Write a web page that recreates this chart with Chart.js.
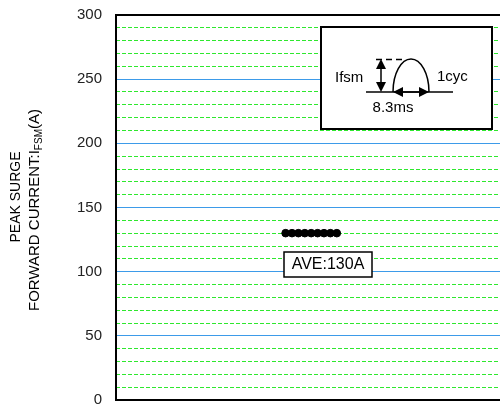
<!DOCTYPE html>
<html>
<head>
<meta charset="utf-8">
<script src="https://cdn.jsdelivr.net/npm/chart.js@4/dist/chart.umd.min.js"></script>
<style>
html,body{margin:0;padding:0;background:#fff;}
#wrap{position:relative;width:500px;height:408px;}
</style>
</head>
<body>
<div id="wrap"><canvas id="c" width="500" height="408"></canvas></div>
<script>
// Data
const sampleX = [27, 28, 29, 30, 31, 32, 33, 34, 35];
const peakSurge = [130, 130, 130, 130, 130, 130, 130, 130, 130];
const yTickLabels = [0, 50, 100, 150, 200, 250, 300];
const averageLabel = "AVE:130A";
const titleLine1 = "PEAK SURGE";
const titleLine2Main = "FORWARD CURRENT:I";
const titleLine2Sub = "FSM";
const titleLine2End = "(A)";

const FONT = "'Liberation Sans', Arial, sans-serif";

const points = sampleX.map((x, i) => ({x: x, y: peakSurge[i]}));

function noPad(s) { s.paddingTop = 0; s.paddingBottom = 0; s.paddingLeft = 0; s.paddingRight = 0; }

const decor = {
  id: 'decor',
  afterDatasetsDraw(chart) {
    const ctx = chart.ctx;
    const ca = chart.chartArea;
    const L = ca.left, T = ca.top;
    ctx.save();
    // AVE box
    ctx.fillStyle = '#fff';
    ctx.strokeStyle = '#000';
    ctx.lineWidth = 1.5;
    ctx.fillRect(L + 168, T + 237, 88, 25);
    ctx.strokeRect(L + 168, T + 237, 88, 25);
    ctx.fillStyle = '#000';
    ctx.font = '16px ' + FONT;
    ctx.textAlign = 'center';
    ctx.textBaseline = 'middle';
    ctx.fillText(averageLabel, L + 212, T + 250);

    // inset box
    const bx = L + 205, by = T + 12, bw = 171, bh = 102;
    ctx.fillStyle = '#fff';
    ctx.fillRect(bx, by, bw, bh);
    ctx.lineWidth = 2;
    ctx.strokeRect(bx, by, bw, bh);
    ctx.fillStyle = '#000';
    ctx.font = '15px ' + FONT;
    ctx.textAlign = 'left';
    const ox = L, oy = T;
    ctx.fillText('Ifsm', ox + 219, oy + 63);
    ctx.fillText('1cyc', ox + 321, oy + 62);
    ctx.textAlign = 'center';
    ctx.fillText('8.3ms', ox + 277, oy + 93);

    // wave
    ctx.lineWidth = 1.5;
    ctx.beginPath();
    ctx.moveTo(ox + 250, oy + 77); ctx.lineTo(ox + 337, oy + 77);
    ctx.stroke();
    ctx.beginPath();
    ctx.ellipse(ox + 295, oy + 77, 18, 33, 0, Math.PI, 2 * Math.PI);
    ctx.stroke();
    ctx.setLineDash([6, 4]);
    ctx.beginPath();
    ctx.moveTo(ox + 260, oy + 44.5); ctx.lineTo(ox + 286, oy + 44.5);
    ctx.stroke();
    ctx.setLineDash([]);
    ctx.beginPath();
    ctx.moveTo(ox + 265, oy + 50); ctx.lineTo(ox + 265, oy + 72);
    ctx.stroke();
    function tri(x1, y1, x2, y2, x3, y3) {
      ctx.beginPath(); ctx.moveTo(ox + x1, oy + y1); ctx.lineTo(ox + x2, oy + y2); ctx.lineTo(ox + x3, oy + y3); ctx.closePath(); ctx.fill();
    }
    tri(265, 44, 260, 54, 270, 54);
    tri(265, 77, 260, 67, 270, 67);
    ctx.beginPath();
    ctx.moveTo(ox + 282, oy + 77); ctx.lineTo(ox + 308, oy + 77);
    ctx.stroke();
    tri(277, 77, 287, 72, 287, 82);
    tri(313, 77, 303, 72, 303, 82);

    // y title
    ctx.fillStyle = '#000';
    ctx.save();
    ctx.translate(20, 197);
    ctx.rotate(-Math.PI / 2);
    ctx.font = '14px ' + FONT;
    ctx.textAlign = 'center';
    ctx.textBaseline = 'alphabetic';
    ctx.fillText(titleLine1, 0, 0);
    ctx.restore();

    ctx.save();
    ctx.translate(38.5, 210);
    ctx.rotate(-Math.PI / 2);
    ctx.textBaseline = 'alphabetic';
    ctx.textAlign = 'left';
    const mainFont = '15px ' + FONT, subFont = '10px ' + FONT;
    ctx.font = mainFont; const w1 = ctx.measureText(titleLine2Main).width;
    const w3 = ctx.measureText(titleLine2End).width;
    ctx.font = subFont; const w2 = ctx.measureText(titleLine2Sub).width;
    let x = -(w1 + w2 + w3) / 2;
    ctx.font = mainFont; ctx.fillText(titleLine2Main, x, 0); x += w1;
    ctx.font = subFont; ctx.fillText(titleLine2Sub, x, 3); x += w2;
    ctx.font = mainFont; ctx.fillText(titleLine2End, x, 0);
    ctx.restore();

    ctx.restore();
  }
};

new Chart(document.getElementById('c'), {
  type: 'scatter',
  data: {
    datasets: [{
      data: points,
      xAxisID: 'x',
      yAxisID: 'y',
      backgroundColor: '#000',
      borderColor: '#000',
      pointRadius: 3.8,
      pointHoverRadius: 3.8,
      showLine: false
    }]
  },
  options: {
    responsive: false,
    animation: false,
    events: [],
    layout: {autoPadding: false, padding: {top: 15, bottom: 8, left: 0, right: 0}},
    plugins: {legend: {display: false}, tooltip: {enabled: false}},
    scales: {
      yMinor: {
        type: 'linear', position: 'left', min: 0, max: 300, weight: 0,
        ticks: {display: false, stepSize: 10},
        afterBuildTicks(s) { s.ticks = s.ticks.filter(t => t.value % 50 !== 0); },
        grid: {drawTicks: false, lineWidth: 1, color: '#2ee82e'},
        border: {display: false, dash: [4, 2]},
        afterFit(s) { s.width = 0; noPad(s); }
      },
      yMajor: {
        type: 'linear', position: 'left', min: 0, max: 300, weight: 0,
        ticks: {display: false, stepSize: 50},
        afterBuildTicks(s) { s.ticks = s.ticks.filter(t => t.value > 0 && t.value < 300); },
        grid: {drawTicks: false, lineWidth: 1, color: '#3d9be9'},
        border: {display: false},
        afterFit(s) { s.width = 0; noPad(s); }
      },
      x: {
        type: 'linear', position: 'bottom', min: 0.5, max: 60.5,
        ticks: {display: false},
        grid: {display: false, drawTicks: false},
        border: {display: true, color: '#000', width: 2},
        afterFit(s) { s.height = 0; noPad(s); }
      },
      xTop: {
        type: 'linear', position: 'top', min: 0, max: 1,
        ticks: {display: false},
        grid: {display: false, drawTicks: false},
        border: {display: true, color: '#000', width: 2},
        afterFit(s) { s.height = 0; noPad(s); }
      },
      y: {
        type: 'linear', position: 'left', min: 0, max: 300, weight: 1,
        ticks: {
          stepSize: 50,
          padding: 14,
          color: '#222',
          font: {family: FONT, size: 15},
          callback: (v) => yTickLabels.includes(v) ? String(v) : ''
        },
        grid: {display: false, drawTicks: false},
        border: {display: true, color: '#000', width: 2},
        afterFit(s) { s.width = 116; noPad(s); }
      }
    }
  },
  plugins: [decor]
});
</script>
</body>
</html>
